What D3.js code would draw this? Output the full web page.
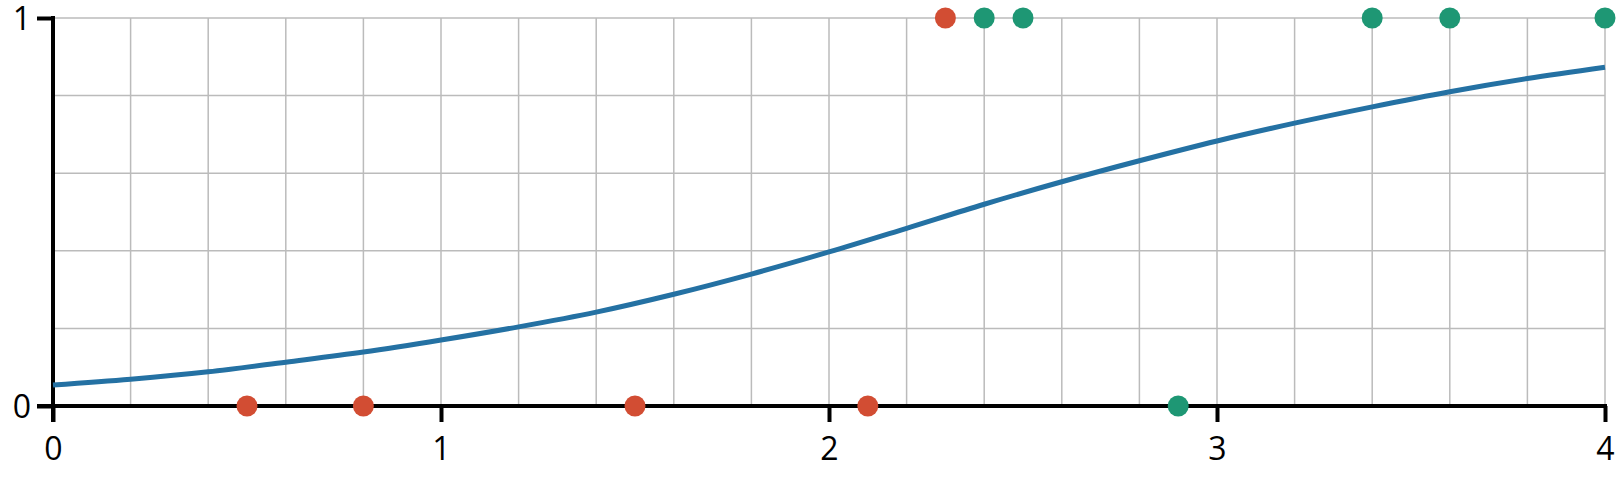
<!DOCTYPE html>
<html>
<head>
<meta charset="utf-8">
<script src="https://cdn.jsdelivr.net/npm/d3@7"></script>
<style>
  html, body { margin: 0; padding: 0; background: #fff; }
  svg { display: block; font-family: "Open Sans", "Noto Sans", sans-serif; }
</style>
</head>
<body>
<div id="chart"></div>
<script>
// fitted curve
let curveX = [0, 0.2, 0.4, 0.6, 0.8, 1.0, 1.2, 1.4, 1.6, 1.8, 2.0, 2.2, 2.4, 2.6, 2.8, 3.0, 3.2, 3.4, 3.6, 3.8, 4.0]
let curveY = [0.054, 0.069, 0.088, 0.113, 0.139, 0.170, 0.204, 0.242, 0.288, 0.340, 0.397, 0.458, 0.520, 0.578, 0.632, 0.683, 0.729, 0.771, 0.810, 0.844, 0.873]

// observations
let redX = [0.5, 0.8, 1.5, 2.1, 2.3]
let redY = [0, 0, 0, 0, 1]
let greenX = [2.4, 2.5, 2.9, 3.4, 3.6, 4.0]
let greenY = [1, 1, 0, 1, 1, 1]

let xTicks = [0, 1, 2, 3, 4]
let yTicks = [0, 1]

let W = 1617, H = 482
let pad = {left: 53, right: 1605, top: 18, bottom: 406}

let x = d3.scaleLinear().domain([0, 4]).range([pad.left, pad.right])
let y = d3.scaleLinear().domain([0, 1]).range([pad.bottom, pad.top])

let svg = d3.select('#chart').append('svg')
            .attr('width', W)
            .attr('height', H)

// grid
let grid = svg.append('g').attr('stroke', '#bbbbbb').attr('stroke-width', 1.5)
grid.selectAll('line.v')
    .data(d3.range(1, 21).map(i => i * 0.2))
    .enter().append('line')
    .attr('x1', d => x(d)).attr('x2', d => x(d))
    .attr('y1', y(1)).attr('y2', y(0))
grid.selectAll('line.h')
    .data(d3.range(1, 6).map(i => i * 0.2))
    .enter().append('line')
    .attr('x1', x(0)).attr('x2', x(4))
    .attr('y1', d => y(d)).attr('y2', d => y(d))

// axes
let xAxis = d3.axisBottom(x).tickValues(xTicks).tickSize(16).tickPadding(8)
              .tickFormat(d3.format('d'))
let yAxis = d3.axisLeft(y).tickValues(yTicks).tickSize(16).tickPadding(6)
              .tickFormat(d3.format('d'))

let xg = svg.append('g')
    .attr('transform', 'translate(0,' + y(0) + ')')
    .call(xAxis)
let yg = svg.append('g')
    .attr('transform', 'translate(' + x(0) + ',0)')
    .call(yAxis)

;[xg, yg].forEach(g => {
  g.select('.domain').remove()
  g.selectAll('.tick line').attr('stroke', '#000').attr('stroke-width', 4)
  g.selectAll('.tick text')
    .attr('fill', '#000')
    .attr('font-size', 32)
    .attr('font-family', '"Open Sans", "Noto Sans", sans-serif')
})
xg.selectAll('.tick text').attr('dy', '0.95em')
yg.selectAll('.tick text').attr('dy', '0.36em')

// axis lines
svg.append('line')
    .attr('x1', x(0) - 16).attr('x2', x(4) + 2)
    .attr('y1', y(0)).attr('y2', y(0))
    .attr('stroke', '#000').attr('stroke-width', 4)
svg.append('line')
    .attr('x1', x(0)).attr('x2', x(0))
    .attr('y1', y(1) - 2).attr('y2', y(0) + 16)
    .attr('stroke', '#000').attr('stroke-width', 4)

// curve
let line = d3.line()
    .x(d => x(d[0]))
    .y(d => y(d[1]))
    .curve(d3.curveCatmullRom)

svg.append('path')
    .datum(d3.zip(curveX, curveY))
    .attr('fill', 'none')
    .attr('stroke', '#2471a3')
    .attr('stroke-width', 5)
    .attr('d', line)

// points
svg.append('g').selectAll('circle')
    .data(d3.zip(redX, redY))
    .enter().append('circle')
    .attr('cx', d => x(d[0]))
    .attr('cy', d => y(d[1]))
    .attr('r', 10.5)
    .attr('fill', '#d24d33')

svg.append('g').selectAll('circle')
    .data(d3.zip(greenX, greenY))
    .enter().append('circle')
    .attr('cx', d => x(d[0]))
    .attr('cy', d => y(d[1]))
    .attr('r', 10.5)
    .attr('fill', '#1e9774')
</script>
</body>
</html>
